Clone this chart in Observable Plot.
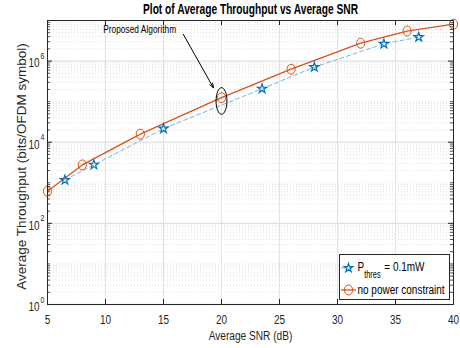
<!DOCTYPE html>
<html><head><meta charset="utf-8">
<script src="https://cdn.jsdelivr.net/npm/d3@7"></script>
<script src="https://cdn.jsdelivr.net/npm/@observablehq/plot@0.6"></script>
<style>
body{margin:0;background:#fff}
#wrap{position:relative;width:460px;height:348px;background:#fff}
#legend{position:absolute;left:0;top:0;pointer-events:none}
</style></head><body><div id="wrap"></div><script>
// ---- data ----
const snrNoConstraint = [5, 8, 13, 20, 26, 32, 36, 40];
const thrNoConstraint = [620, 2760, 15800, 125000, 630000, 2760000, 5500000, 8100000];
const snrThres = [6.5, 9, 15, 23.5, 28, 34, 37];
const thrThres = [1170, 2780, 21600, 208000, 710000, 2660000, 3900000];
const xTicks = [5, 10, 15, 20, 25, 30, 35, 40];
const yTicks = [1, 1e2, 1e4, 1e6];
const yTickExp = ["0", "2", "4", "6"];
const titleText = "Plot of Average Throughput vs Average SNR";
const xLabel = "Average SNR (dB)";
const yLabel = "Average Throughput (bits/OFDM symbol)";
const seriesNames = ["thres", "no power constraint"];
const annotText = "Proposed Algorithm";
const annotPoint = {x: 20, y: 1.04e5};
const annotArrow = {x1: 16.7, y1: 4.6e6, x2: 19.3, y2: 2.2e5};
const annotLabel = {x: 9.8, y: 6.0e6};

// ---- layout ----
const W = 460, H = 348, mL = 47, mR = 7, mT = 20, mB = 44;
const pw = W - mL - mR, ph = H - mT - mB;
const FONT = "'Liberation Sans',Arial,Helvetica,sans-serif";
const SQ = 0.74; // horizontal squeeze of the reference's narrow lettering
const ORANGE = "#D95319", BLUE = "#0072BD", LIGHTBLUE = "#78b4e4", AX = "#262626";

const minorY = [];
for (let k = 0; k < 7; k++) for (let m = 2; m <= 9; m++) minorY.push(m * 10 ** k);
const oddDecades = [10, 1e3, 1e5];
const minorAll = minorY.concat(oddDecades);

const dataA = snrNoConstraint.map((x, i) => ({x, y: thrNoConstraint[i]}));
const dataB = snrThres.map((x, i) => ({x, y: thrThres[i]}));

function ellipse(ratio) {
  return {
    draw(ctx, size) {
      const r = Math.sqrt(size / Math.PI), rx = r * ratio, ry = r, k = 0.5523;
      ctx.moveTo(rx, 0);
      ctx.bezierCurveTo(rx, k * ry, k * rx, ry, 0, ry);
      ctx.bezierCurveTo(-k * rx, ry, -rx, k * ry, -rx, 0);
      ctx.bezierCurveTo(-rx, -k * ry, -k * rx, -ry, 0, -ry);
      ctx.bezierCurveTo(k * rx, -ry, rx, -k * ry, rx, 0);
      ctx.closePath();
    }
  };
}

const chart = Plot.plot({
  width: W, height: H, marginLeft: mL, marginRight: mR, marginTop: mT, marginBottom: mB,
  style: {fontFamily: FONT, fontSize: "13px", background: "#fff", color: AX},
  x: {domain: [5, 40], axis: null},
  y: {type: "log", domain: [1, 1e7], axis: null},
  marks: [
    Plot.ruleY(minorAll, {y: d => d, stroke: "#d8d8d8", strokeDasharray: "1,2", strokeWidth: 0.8}),
    Plot.ruleX(xTicks, {x: d => d, stroke: "#e2e2e2", strokeWidth: 1}),
    Plot.ruleY(yTicks, {y: d => d, stroke: "#e0e0e0", strokeWidth: 1.3}),
    Plot.line(dataB, {x: "x", y: "y", stroke: LIGHTBLUE, strokeWidth: 1, strokeDasharray: "4,3"}),
    Plot.line(dataA, {x: "x", y: "y", stroke: ORANGE, strokeWidth: 1.3}),
    Plot.dot(dataA, {x: "x", y: "y", symbol: ellipse(0.82), r: 5, stroke: ORANGE, strokeWidth: 1, fill: "none"}),
    Plot.dot(dataB, {x: "x", y: "y", symbol: "star", r: 2.9, stroke: BLUE, strokeWidth: 1.2, fill: "none"}),
    // annotation
    Plot.dot([annotPoint], {x: "x", y: "y", symbol: ellipse(0.41), r: 13.3, stroke: "#000", strokeWidth: 1, fill: "none"}),
    Plot.arrow([annotArrow], {x1: "x1", y1: "y1", x2: "x2", y2: "y2", stroke: "#000", strokeWidth: 1, headLength: 7, headAngle: 40}),
    Plot.text([annotLabel], {x: "x", y: "y", text: () => annotText, textAnchor: "start", lineAnchor: "middle", fontSize: 11.3, fill: "#000"}),
    // ticks
    Plot.tickX(xTicks, {x: d => d, insetTop: ph - 5, stroke: AX}),
    Plot.tickX(xTicks, {x: d => d, insetBottom: ph - 5, stroke: AX}),
    Plot.tickY(yTicks, {y: d => d, insetRight: pw - 5, stroke: AX}),
    Plot.tickY(yTicks, {y: d => d, insetLeft: pw - 5, stroke: AX}),
    Plot.tickY(minorAll, {y: d => d, insetRight: pw - 3, stroke: AX, strokeWidth: 0.8}),
    Plot.tickY(minorAll, {y: d => d, insetLeft: pw - 3, stroke: AX, strokeWidth: 0.8}),
    Plot.frame({stroke: AX, strokeWidth: 1}),
    // tick labels
    Plot.text(xTicks, {x: d => d, frameAnchor: "bottom", dy: 15, lineAnchor: "middle", text: d => String(d), fontSize: 13.5, fill: AX}),
    Plot.text(yTicks, {y: d => d, frameAnchor: "left", dx: -8, dy: 2, lineAnchor: "middle", text: () => "10", textAnchor: "end", fontSize: 13.5, fill: AX}),
    Plot.text(yTicks, {y: d => d, frameAnchor: "left", dx: -3, dy: -5, lineAnchor: "middle", text: (d, i) => yTickExp[i], textAnchor: "end", fontSize: 9.5, fill: AX}),
    // labels
    Plot.text([xLabel], {frameAnchor: "bottom", dy: 31, lineAnchor: "middle", textAnchor: "middle", text: d => d, fontSize: 13.7, fill: AX}),
    Plot.text([yLabel], {frameAnchor: "left", dx: -26, dy: 4, rotate: -90, textAnchor: "middle", lineAnchor: "middle", text: d => d, fontSize: 13.5, fill: AX}),
    Plot.text([titleText], {frameAnchor: "top", dy: -11, lineAnchor: "middle", textAnchor: "middle", text: d => d, fontSize: 13.8, fontWeight: "bold", fill: "#000"})
  ]
});
const wrap = document.getElementById("wrap");
wrap.appendChild(chart);

// squeeze horizontal (non-rotated) lettering around its anchor
function squeeze(t) {
  const tr = t.getAttribute("transform") || "";
  if (/rotate/.test(tr)) return;
  const x = t.getAttribute("x");
  if (x !== null && !isNaN(+x)) t.setAttribute("x", +x / SQ);
  t.setAttribute("transform", `${tr} scale(${SQ},1)`);
}
chart.querySelectorAll("text").forEach(squeeze);

// ---- legend overlay ----
const lg = d3.select(wrap).append("svg").attr("id", "legend").attr("width", W).attr("height", H)
  .style("font-family", FONT);
lg.append("rect").attr("x", 339.5).attr("y", 254.5).attr("width", 110).attr("height", 45)
  .attr("fill", "#fff").attr("stroke", AX).attr("stroke-width", 1);
// row 1
lg.append("line").attr("x1", 341).attr("x2", 356).attr("y1", 268).attr("y2", 268)
  .attr("stroke", LIGHTBLUE).attr("stroke-dasharray", "4,3");
lg.append("path").attr("d", d3.symbol(d3.symbolStar, 24)()).attr("transform", "translate(348.5,268)")
  .attr("fill", "none").attr("stroke", BLUE).attr("stroke-width", 1.2);
const t1 = lg.append("text").attr("x", 357.5).attr("y", 271.5).attr("font-size", 13.5).attr("fill", "#000");
t1.append("tspan").text("P");
t1.append("tspan").attr("dy", 6.5).attr("font-size", 10).text(seriesNames[0]);
t1.append("tspan").attr("dy", -6.5).attr("dx", 5).attr("font-size", 13.5).text("= 0.1mW");
// row 2
lg.append("line").attr("x1", 341).attr("x2", 356).attr("y1", 290).attr("y2", 290)
  .attr("stroke", ORANGE).attr("stroke-width", 1.3);
lg.append("ellipse").attr("cx", 348.5).attr("cy", 290).attr("rx", 4.1).attr("ry", 5)
  .attr("fill", "none").attr("stroke", ORANGE);
lg.append("text").attr("x", 357.5).attr("y", 294.5).attr("font-size", 13.5).attr("fill", "#000").text(seriesNames[1]);
lg.selectAll("text").each(function() { squeeze(this); });
</script></body></html>
